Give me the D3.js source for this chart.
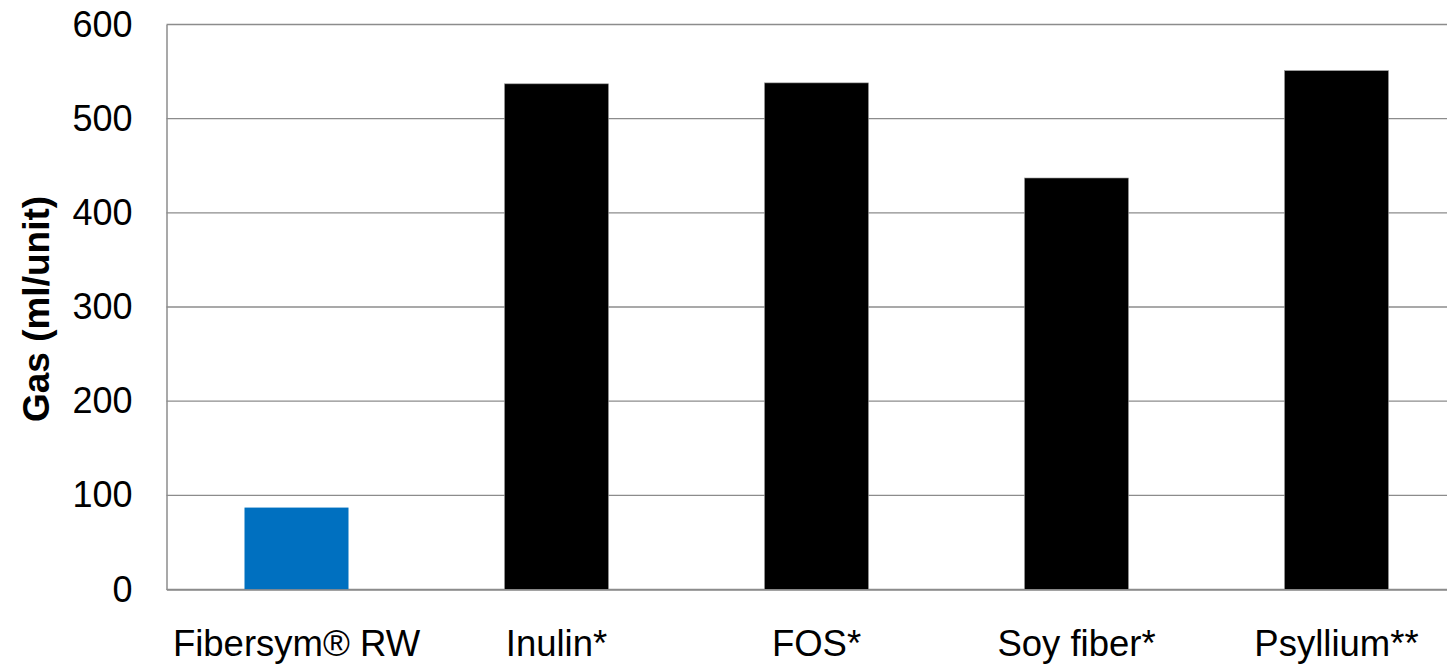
<!DOCTYPE html>
<html>
<head>
<meta charset="utf-8">
<script src="https://cdn.jsdelivr.net/npm/d3@7"></script>
<style>
  html, body { margin: 0; padding: 0; background: #fff; overflow: hidden; }
  svg { display: block; font-family: "Liberation Sans", Arial, sans-serif; }
</style>
</head>
<body>
<svg id="chart" width="1447" height="665"></svg>
<script>
// Gas production per fiber type
const categories = ["Fibersym® RW", "Inulin*", "FOS*", "Soy fiber*", "Psyllium**"];
const gasValues = [87, 537, 538, 437, 551];
const barColors = ["#0070C0", "#000000", "#000000", "#000000", "#000000"];
const yTicks = [0, 100, 200, 300, 400, 500, 600];
const yTitle = "Gas (ml/unit)";

const svg = d3.select("#chart");
const plot = { left: 166.5, right: 1466.5, top: 24.5, bottom: 589.5 };

const x = d3.scaleBand()
  .domain(categories)
  .range([plot.left, plot.right])
  .paddingInner(0.6)
  .paddingOuter(0.3);

const y = d3.scaleLinear()
  .domain([0, 600])
  .range([plot.bottom, plot.top]);

// horizontal gridlines
svg.append("g")
  .selectAll("line")
  .data(yTicks)
  .join("line")
  .attr("x1", plot.left)
  .attr("x2", plot.right)
  .attr("y1", d => y(d))
  .attr("y2", d => y(d))
  .attr("stroke", "#8c8c8c")
  .attr("stroke-width", 1.3);

// bars
svg.append("g")
  .selectAll("rect")
  .data(categories)
  .join("rect")
  .attr("x", d => x(d))
  .attr("width", x.bandwidth())
  .attr("y", (d, i) => y(gasValues[i]))
  .attr("height", (d, i) => y(0) - y(gasValues[i]))
  .attr("fill", (d, i) => barColors[i])
  .attr("stroke", (d, i) => i === 0 ? "none" : "#9a9a9a")
  .attr("stroke-width", 0.6);

// y axis
const yAxis = svg.append("g")
  .attr("transform", `translate(${plot.left},0)`)
  .call(d3.axisLeft(y).tickValues(yTicks).tickSize(0).tickPadding(34));
yAxis.select(".domain").attr("stroke", "#8c8c8c").attr("stroke-width", 1.5);
yAxis.selectAll("text")
  .attr("font-size", 36)
  .attr("font-family", "Liberation Sans, Arial, sans-serif")
  .attr("fill", "#000");

// x axis
const xAxis = svg.append("g")
  .attr("transform", `translate(0,${plot.bottom})`)
  .call(d3.axisBottom(x).tickSize(0).tickPadding(41));
xAxis.select(".domain").attr("stroke", "#8c8c8c").attr("stroke-width", 1.5);
xAxis.selectAll("text")
  .attr("font-size", 36.5)
  .attr("font-family", "Liberation Sans, Arial, sans-serif")
  .attr("fill", "#000");

// y axis title
svg.append("text")
  .attr("transform", "translate(49,309) rotate(-90)")
  .attr("text-anchor", "middle")
  .attr("font-size", 37)
  .attr("font-weight", "bold")
  .attr("fill", "#000")
  .text(yTitle);
</script>
</body>
</html>
